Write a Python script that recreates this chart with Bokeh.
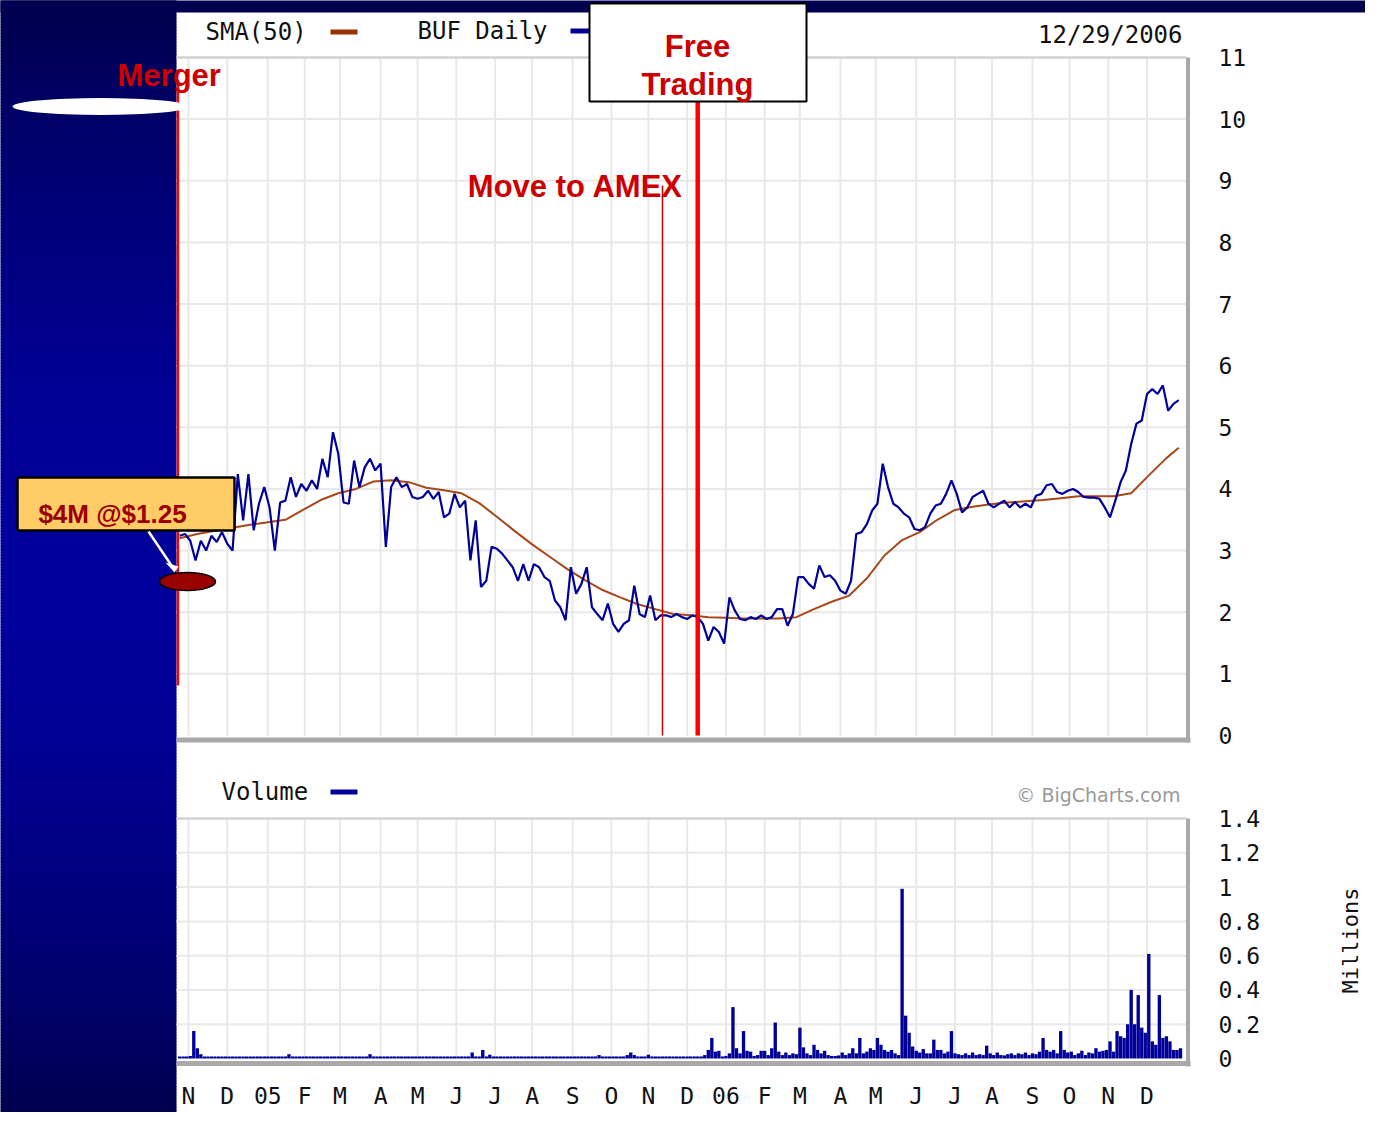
import numpy as np
import pandas as pd
from bokeh.plotting import figure
from bokeh.models import Range1d, LinearAxis, FixedTicker, NumeralTickFormatter, Grid
from bokeh.core.properties import value
from bokeh.embed import file_html
from bokeh.resources import INLINE

# ---------------- data ----------------
ORIGIN = np.datetime64("2004-11-01")

price_dates = pd.bdate_range("2004-10-25", periods=190, freq="3B")
price = [
    3.24, 3.27, 3.16, 2.84, 3.16, 3.00, 3.24, 3.14, 3.30, 3.11,
    3.00, 4.24, 3.49, 4.24, 3.33, 3.76, 4.03, 3.70, 3.00, 3.78,
    3.81, 4.19, 3.87, 4.08, 3.97, 4.14, 4.00, 4.49, 4.19, 4.92,
    4.57, 3.78, 3.76, 4.46, 4.03, 4.35, 4.49, 4.30, 4.41, 3.06,
    4.03, 4.19, 4.03, 4.08, 3.87, 3.84, 3.87, 3.97, 3.84, 3.95,
    3.54, 3.60, 3.92, 3.70, 3.81, 2.84, 3.49, 2.41, 2.51, 3.06,
    3.03, 2.95, 2.84, 2.73, 2.51, 2.78, 2.51, 2.78, 2.73, 2.57,
    2.51, 2.19, 2.08, 1.87, 2.73, 2.30, 2.46, 2.73, 2.08, 1.97,
    1.87, 2.14, 1.81, 1.68, 1.81, 1.87, 2.43, 1.97, 1.92, 2.27,
    1.87, 1.95, 1.95, 1.92, 1.97, 1.92, 1.89,
    1.95, 1.92, 1.81, 1.54, 1.76, 1.68, 1.49, 2.24, 2.03, 1.89,
    1.87, 1.92, 1.89, 1.95, 1.89, 1.92, 2.05, 2.05, 1.78, 1.97,
    2.57, 2.57, 2.46, 2.38, 2.76, 2.57, 2.60, 2.51, 2.35, 2.30,
    2.51, 3.27, 3.30, 3.43, 3.65, 3.76, 4.41, 4.03, 3.76, 3.70,
    3.60, 3.54, 3.35, 3.33, 3.38, 3.60, 3.73, 3.76, 3.92, 4.14,
    3.92, 3.62, 3.70, 3.87, 3.92, 3.97, 3.76, 3.70, 3.76, 3.81,
    3.70, 3.79, 3.70, 3.76, 3.70, 3.89, 3.92, 4.06, 4.08, 3.95,
    3.92, 3.97, 4.00, 3.95, 3.87, 3.86, 3.86, 3.84, 3.70, 3.54,
    3.81, 4.11, 4.30, 4.73, 5.06, 5.11, 5.54, 5.62, 5.54, 5.68,
    5.27, 5.38, 5.44,
]

sma_dates = list(pd.bdate_range("2004-10-25", periods=57, freq="10B")) + [pd.Timestamp("2006-12-27")]
sma = [
    3.20, 3.27, 3.32, 3.37, 3.42, 3.46, 3.50, 3.66, 3.82, 3.93,
    4.00, 4.12, 4.14, 4.11, 4.02, 3.98, 3.93, 3.77, 3.55, 3.32,
    3.10, 2.90, 2.70, 2.52, 2.36, 2.24, 2.13, 2.05, 1.97, 1.95,
    1.92, 1.91, 1.90, 1.90, 1.90, 1.92, 2.05, 2.17, 2.27, 2.55,
    2.92, 3.17, 3.30, 3.50, 3.66, 3.71, 3.75, 3.78, 3.80, 3.82,
    3.85, 3.88, 3.88, 3.88, 3.93, 4.22, 4.50, 4.67,
]

vol_dates = pd.bdate_range("2004-10-25", periods=285, freq="2B")
volume = [  # millions of shares
    0.012, 0.012, 0.012, 0.015, 0.16, 0.06, 0.025, 0.012, 0.012, 0.012,
    0.012, 0.012, 0.012, 0.012, 0.012, 0.012, 0.012, 0.012, 0.012, 0.012,
    0.012, 0.012, 0.012, 0.012, 0.012, 0.012, 0.012, 0.012, 0.012, 0.012,
    0.012, 0.025, 0.012, 0.012, 0.012, 0.012, 0.012, 0.012, 0.012, 0.012,
    0.012, 0.012, 0.012, 0.012, 0.012, 0.012, 0.012, 0.012, 0.012, 0.012,
    0.012, 0.012, 0.012, 0.012, 0.025, 0.012, 0.012, 0.012, 0.012, 0.012,
    0.012, 0.012, 0.012, 0.012, 0.012, 0.012, 0.012, 0.012, 0.012, 0.012,
    0.012, 0.012, 0.012, 0.012, 0.012, 0.012, 0.012, 0.012, 0.012, 0.012,
    0.012, 0.012, 0.012, 0.035, 0.012, 0.012, 0.05, 0.012, 0.022, 0.012,
    0.012, 0.012, 0.012, 0.012, 0.012, 0.012, 0.012, 0.012, 0.012, 0.012,
    0.012, 0.012, 0.012, 0.012, 0.012, 0.012, 0.012, 0.012, 0.012, 0.012,
    0.012, 0.012, 0.012, 0.012, 0.012, 0.012, 0.012, 0.012, 0.012, 0.02,
    0.012, 0.012, 0.012, 0.012, 0.012, 0.012, 0.012, 0.02, 0.035, 0.02,
    0.012, 0.012, 0.012, 0.022, 0.012, 0.012, 0.012, 0.012, 0.012, 0.012,
    0.012, 0.012, 0.012, 0.012, 0.012, 0.012, 0.012, 0.012, 0.012, 0.02,
    0.05, 0.12, 0.04, 0.045, 0.012, 0.015, 0.03, 0.30, 0.06, 0.03,
    0.16, 0.045, 0.04, 0.015, 0.02, 0.045, 0.045, 0.02, 0.06, 0.21,
    0.04, 0.02, 0.035, 0.02, 0.03, 0.025, 0.18, 0.065, 0.03, 0.02,
    0.08, 0.05, 0.03, 0.045, 0.02, 0.015, 0.015, 0.018, 0.035, 0.02,
    0.03, 0.06, 0.03, 0.12, 0.03, 0.04, 0.06, 0.05, 0.12, 0.08,
    0.05, 0.04, 0.05, 0.03, 0.02, 0.99, 0.25, 0.15, 0.07, 0.045,
    0.035, 0.055, 0.03, 0.03, 0.11, 0.05, 0.05, 0.03, 0.04, 0.16,
    0.03, 0.025, 0.02, 0.03, 0.02, 0.035, 0.02, 0.025, 0.02, 0.075,
    0.03, 0.02, 0.035, 0.02, 0.018, 0.025, 0.03, 0.02, 0.03, 0.025,
    0.035, 0.02, 0.03, 0.025, 0.04, 0.12, 0.05, 0.04, 0.05, 0.03,
    0.16, 0.05, 0.035, 0.04, 0.02, 0.03, 0.045, 0.02, 0.035, 0.03,
    0.06, 0.04, 0.045, 0.05, 0.10, 0.04, 0.16, 0.13, 0.12, 0.20,
    0.40, 0.20, 0.37, 0.18, 0.15, 0.61, 0.10, 0.08, 0.37, 0.12,
    0.13, 0.10, 0.05, 0.05, 0.06,
]

month_starts = pd.date_range("2004-11-01", "2006-12-01", freq="BMS")
month_labels = ["N", "D", "05", "F", "M", "A", "M", "J", "J", "A", "S", "O", "N",
                "D", "06", "F", "M", "A", "M", "J", "J", "A", "S", "O", "N", "D"]
price_ticks = list(range(12))
vol_ticks = [0, 0.2, 0.4, 0.6, 0.8, 1.0, 1.2, 1.4]
event_dates = {"merger": "2004-10-22", "amex": "2005-11-11", "free": "2005-12-09"}


def tday(dates):
    d = pd.DatetimeIndex(dates).values.astype("datetime64[D]")
    return np.busday_count(ORIGIN, d).astype(float)


# ---------------- layout helpers (reference pixel -> data) ----------------
X0, DX = 188.0, 1.762
P0, DP = 735.0, 61.64
V0, DV = 1058.0, 171.4
W, H = 1365, 1112


def px_x(rx):
    return (rx - X0) / DX


def px_p(ry):
    return (P0 - ry) / DP


def px_v(ry):
    return (V0 - ry) / DV


MONO = "DejaVu Sans Mono"
ARIAL = "Liberation Sans"
BLUE = "#000099"
GRID = "#e8e8e8"
SHADOW = "#a9a9a9"
VOL = "vol"

p = figure(width=W, height=H, x_range=Range1d(px_x(0), px_x(W)),
           y_range=Range1d(px_p(H), px_p(0)), output_backend="svg",
           toolbar_location=None, x_axis_location=None, y_axis_location=None,
           min_border=0, outline_line_color=None,
           background_fill_color="white", border_fill_color="white")
p.extra_y_ranges = {VOL: Range1d(px_v(H), px_v(0))}
for g in p.select(type=Grid):
    g.visible = False


def txt(rx, y, s, size, color="#111111", font=MONO, align="left",
        baseline="middle", style="normal", angle=0.0, rng="default"):
    p.text(x=[px_x(rx)], y=[y], text=[s], text_font=value(font), text_font_size=size,
           text_color=color, text_align=align, text_baseline=baseline,
           text_font_style=style, angle=angle, y_range_name=rng)


mx = tday(month_starts)

# ---------------- background ----------------
ys = np.arange(-3, H + 3, 3.0)
cols = ["#0000%02x" % int(round(78 + 77 * np.sin(np.pi * min(max(y + 1.5, 0), 1128) / 1128.0)))
        for y in ys]
p.quad(left=px_x(-5), right=px_x(176), top=[px_p(y) for y in ys],
       bottom=[px_p(y + 3.6) for y in ys], fill_color=cols, line_color=None)
p.quad(left=px_x(-5), right=px_x(1400), top=px_p(-5), bottom=px_p(12),
       fill_color="#000050", line_color=None)

# ---------------- price panel ----------------
p.segment(x0=mx, y0=0, x1=mx, y1=11, line_color=GRID, line_width=2)
hp = price_ticks[1:-1]
p.segment(x0=px_x(176), y0=hp, x1=px_x(1186), y1=hp, line_color=GRID, line_width=2)
p.segment(x0=px_x(176), y0=price_ticks[-1], x1=px_x(1186), y1=price_ticks[-1],
          line_color="#d2d2d2", line_width=2.5)
p.segment(x0=px_x(176), y0=px_p(739.5), x1=px_x(1190), y1=px_p(739.5),
          line_color=SHADOW, line_width=5)
p.segment(x0=px_x(1187.5), y0=px_p(57), x1=px_x(1187.5), y1=px_p(742),
          line_color=SHADOW, line_width=4)

p.line(x=tday(sma_dates), y=sma, line_color="#a8481a", line_width=2)
p.line(x=tday(price_dates), y=price, line_color=BLUE, line_width=2.2)

ex = {k: float(tday([v])[0]) for k, v in event_dates.items()}
p.segment(x0=ex["merger"], y0=px_p(80), x1=ex["merger"], y1=px_p(685),
          line_color="#ff0000", line_width=2.5)
p.segment(x0=ex["amex"], y0=px_p(185), x1=ex["amex"], y1=0,
          line_color="#cc0000", line_width=1.5)
p.segment(x0=ex["free"], y0=px_p(101), x1=ex["free"], y1=0,
          line_color="#ff0000", line_width=4.5)

txt(205, px_p(31), "SMA(50)", "24px")
p.quad(left=px_x(330), right=px_x(357), top=px_p(29), bottom=px_p(34),
       fill_color="#993300", line_color=None)
txt(417, px_p(30), "BUF Daily", "24px")
p.quad(left=px_x(570), right=px_x(598), top=px_p(28), bottom=px_p(33),
       fill_color=BLUE, line_color=None)
txt(1182, px_p(34), "12/29/2006", "24px", align="right")

ax_p = LinearAxis(ticker=FixedTicker(ticks=price_ticks), fixed_location=px_x(1190),
                  axis_line_color=None, major_tick_line_color=None, minor_tick_line_color=None,
                  major_tick_in=0, major_tick_out=0, major_label_standoff=28,
                  major_label_text_font=MONO, major_label_text_font_size="23px",
                  major_label_text_color="#111111")
p.add_layout(ax_p, "right")

# annotations
p.quad(left=px_x(589), right=px_x(806), top=px_p(3), bottom=px_p(101),
       fill_color="white", line_color="black", line_width=2)
txt(697, px_p(46), "Free", "31px", color="#cc0000", font=ARIAL, align="center",
    baseline="alphabetic", style="bold")
txt(697, px_p(84), "Trading", "31px", color="#cc0000", font=ARIAL, align="center",
    baseline="alphabetic", style="bold")
txt(575, px_p(186), "Move to AMEX", "31px", color="#cc0000", font=ARIAL,
    align="center", baseline="alphabetic", style="bold")
p.ellipse(x=px_x(100), y=px_p(106), width=176 / DX, height=17 / DP,
          fill_color="white", line_color=None)
txt(117, px_p(75), "Merger", "31px", color="#cc0000", font=ARIAL,
    baseline="alphabetic", style="bold")
p.quad(left=px_x(17), right=px_x(234), top=px_p(477), bottom=px_p(530),
       fill_color="#ffcc66", line_color="black", line_width=2.5)
txt(112, px_p(513), "$4M @$1.25", "26px", color="#990000", font=ARIAL,
    align="center", baseline="alphabetic", style="bold")
p.segment(x0=px_x(148), y0=px_p(531), x1=px_x(171), y1=px_p(565),
          line_color="white", line_width=2.5)
p.patch(x=[px_x(165), px_x(178), px_x(174)], y=[px_p(562), px_p(566), px_p(572)],
        fill_color="white", line_color=None)
p.ellipse(x=px_x(187), y=px_p(581), width=56 / DX, height=18 / DP,
          fill_color="#990000", line_color="black", line_width=1.5)

# ---------------- volume panel ----------------
p.segment(x0=mx, y0=0, x1=mx, y1=vol_ticks[-1], line_color=GRID, line_width=2,
          y_range_name=VOL)
hv = vol_ticks[1:-1]
p.segment(x0=px_x(176), y0=hv, x1=px_x(1186), y1=hv, line_color=GRID, line_width=2,
          y_range_name=VOL)
p.segment(x0=px_x(176), y0=vol_ticks[-1], x1=px_x(1186), y1=vol_ticks[-1],
          line_color="#d2d2d2", line_width=2.5, y_range_name=VOL)
p.segment(x0=px_x(176), y0=px_v(1063), x1=px_x(1190), y1=px_v(1063),
          line_color=SHADOW, line_width=5, y_range_name=VOL)
p.segment(x0=px_x(1187.5), y0=px_v(818), x1=px_x(1187.5), y1=px_v(1066),
          line_color=SHADOW, line_width=4, y_range_name=VOL)

p.vbar(x=tday(vol_dates), top=volume, bottom=0, width=1.9,
       fill_color=BLUE, line_color=None, y_range_name=VOL)

txt(221, px_v(791), "Volume", "24px", rng=VOL)
p.quad(left=px_x(330), right=px_x(357), top=px_v(789), bottom=px_v(794),
       fill_color=BLUE, line_color=None, y_range_name=VOL)
txt(1180, px_v(794), "\u00a9 BigCharts.com", "19px", color="#999999",
    font="DejaVu Sans", align="right", rng=VOL)
txt(1350, px_v(940), "Millions", "22px", align="center", angle=np.pi / 2, rng=VOL)

ax_v = LinearAxis(ticker=FixedTicker(ticks=vol_ticks), fixed_location=px_x(1190),
                  y_range_name=VOL, formatter=NumeralTickFormatter(format="0.[0]"),
                  axis_line_color=None, major_tick_line_color=None, minor_tick_line_color=None,
                  major_tick_in=0, major_tick_out=0, major_label_standoff=28,
                  major_label_text_font=MONO, major_label_text_font_size="23px",
                  major_label_text_color="#111111")
p.add_layout(ax_v, "right")

ax_x = LinearAxis(ticker=FixedTicker(ticks=list(mx)), fixed_location=px_p(1070),
                  major_label_overrides={float(t): lab for t, lab in zip(mx, month_labels)},
                  axis_line_color=None, major_tick_line_color=None, minor_tick_line_color=None,
                  major_tick_in=0, major_tick_out=0, major_label_standoff=12,
                  major_label_text_font=MONO, major_label_text_font_size="23px",
                  major_label_text_color="#111111")
p.add_layout(ax_x, "below")

open("out.html", "w").write(file_html(p, INLINE))
